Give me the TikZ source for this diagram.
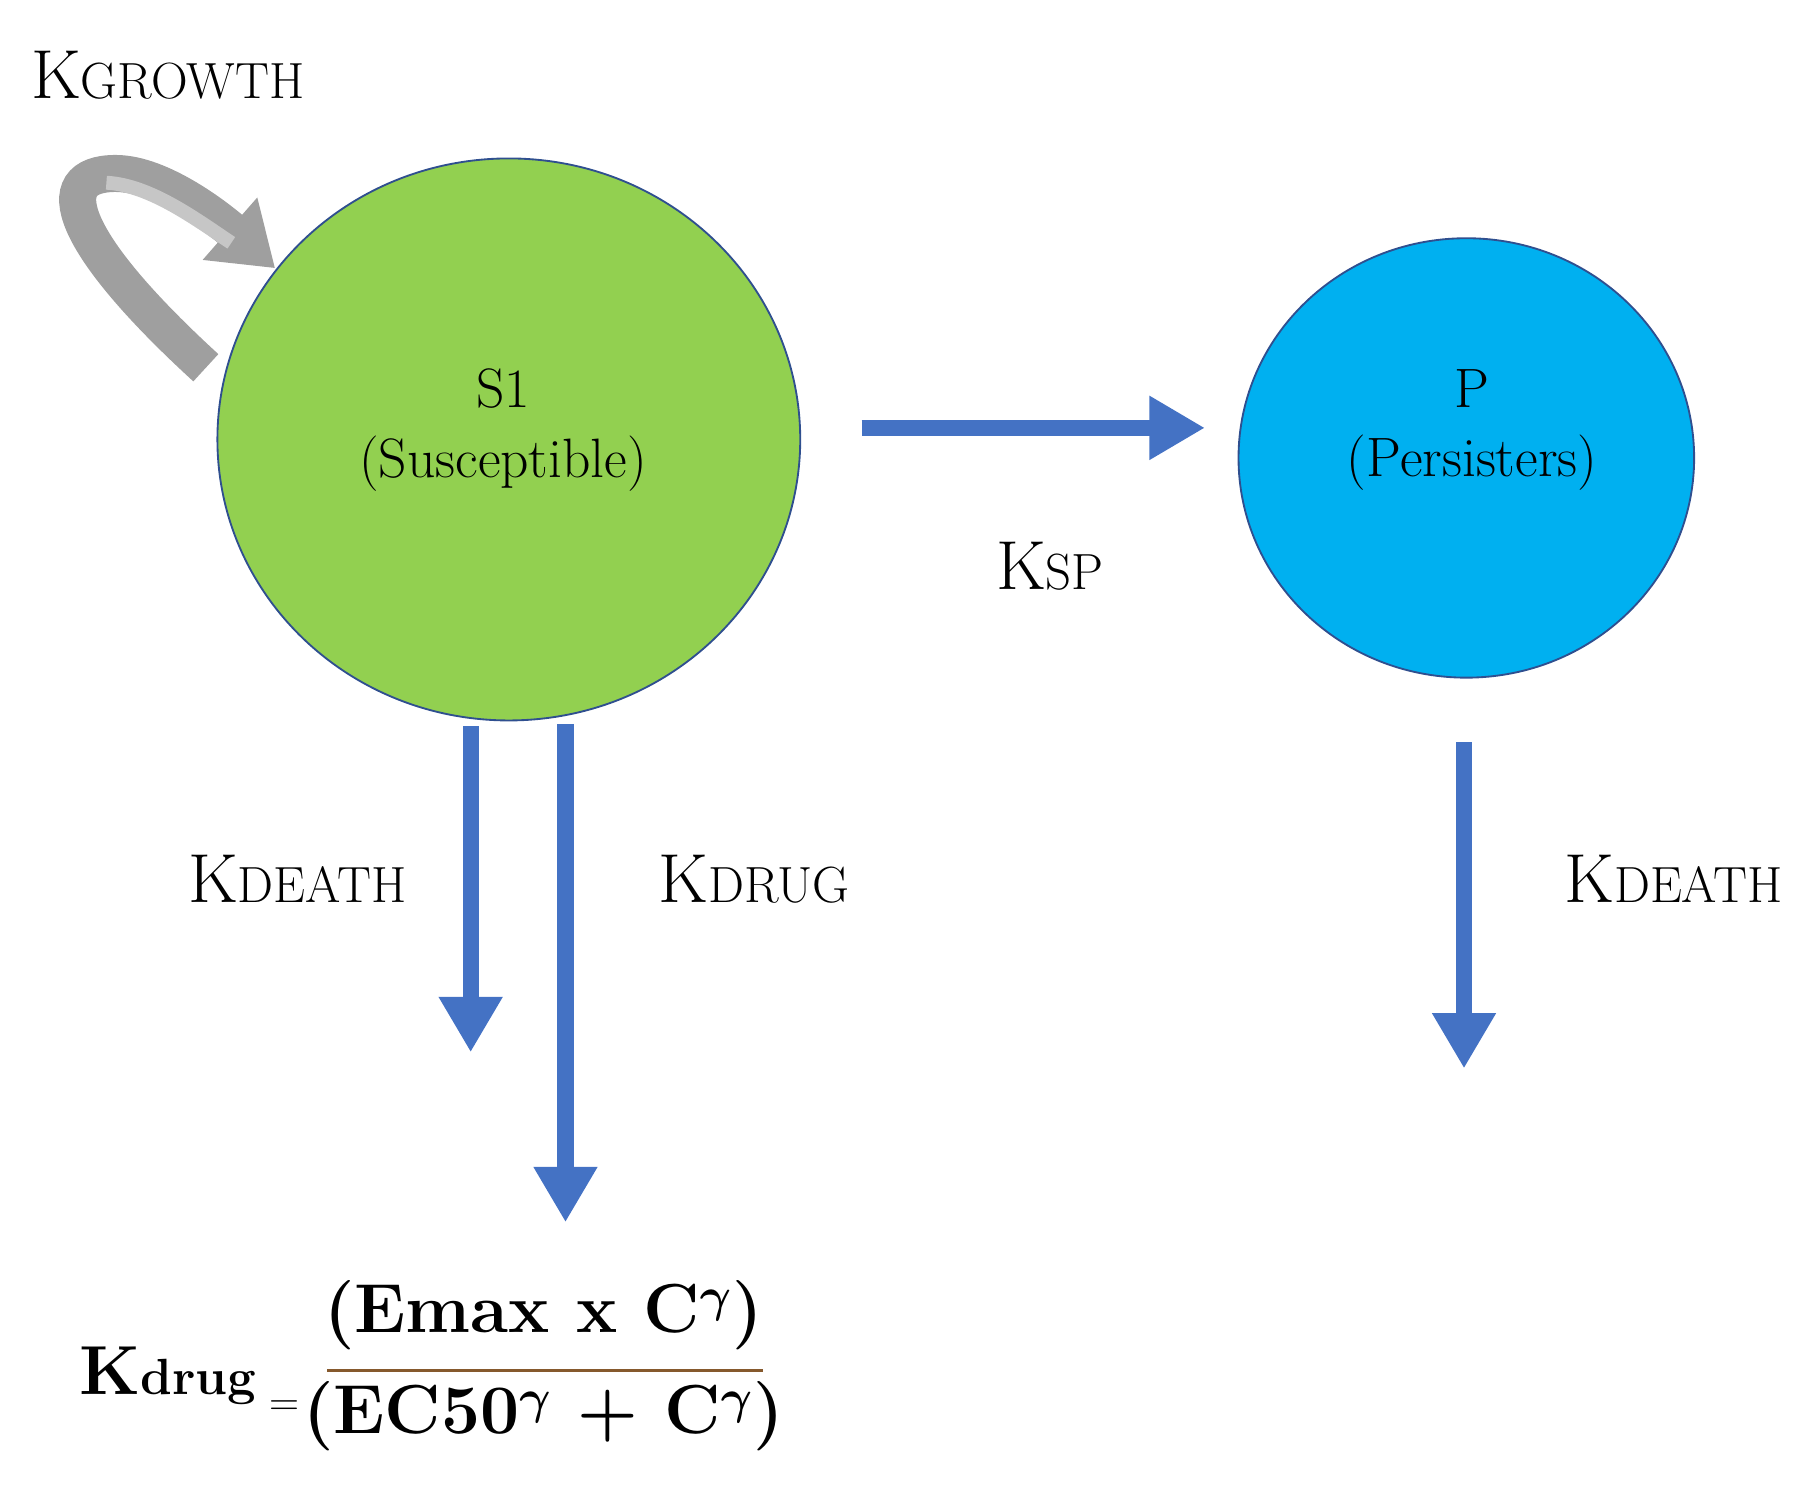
\documentclass[tikz,border=0pt]{standalone}
\usepackage{amsmath}
\usetikzlibrary{arrows.meta}
\begin{document}
\begin{tikzpicture}[x=0.5pt,y=-0.5pt,
  flow/.style={draw=arrowblue,line width=7pt,-{Triangle[width=26pt,length=24pt]}},
  lbl/.style={font=\fontsize{30}{34}\selectfont,inner sep=0pt},
  comp/.style={font=\fontsize{24}{30}\selectfont,align=center}]
\definecolor{arrowblue}{HTML}{4472C4}
\definecolor{sgreen}{HTML}{92D050}
\definecolor{pblue}{HTML}{00B0F0}
\definecolor{edge}{HTML}{2F4F8F}
\useasboundingbox (0,0) rectangle (1560,1290);
\filldraw[fill=sgreen,draw=edge,line width=0.8pt] (440,380) ellipse [x radius=252,y radius=243];
\node[comp] (s1) at (435,372) {S1\\(Susceptible)};
\filldraw[fill=pblue,draw=edge,line width=0.8pt] (1268,396) ellipse [x radius=197,y radius=190];
\node[comp] (p) at (1273,372) {P\\(Persisters)};
% growth arrow
\coordinate (g0) at (178,318);
\coordinate (g1) at (238,232);
\draw[draw=gray!75,line width=16pt,-{Triangle[width=34pt,length=26pt]}]
  (g0) .. controls (60,210) and (40,150) .. (100,150) .. controls (140,150) and (190,190) .. (g1);
\draw[draw=gray!45,line width=6pt] (92,158) .. controls (130,160) and (170,190) .. (200,210);
\node[lbl] (kg) at (145,65) {K\fontsize{22}{26}\selectfont GROWTH};
% transfer
\coordinate (a0) at (745,370); \coordinate (a1) at (1042,370);
\draw[flow] (a0) -- (a1);
\node[lbl] (ksp) at (908,490) {K\fontsize{22}{26}\selectfont SP};
% deaths
\coordinate (d0) at (407,628); \coordinate (d1) at (407,910);
\draw[flow] (d0) -- (d1);
\coordinate (r0) at (489,626); \coordinate (r1) at (489,1057);
\draw[flow] (r0) -- (r1);
\coordinate (q0) at (1266,642); \coordinate (q1) at (1266,924);
\draw[flow] (q0) -- (q1);
\node[lbl] (kd1) at (257,760) {K\fontsize{22}{26}\selectfont DEATH};
\node[lbl] (kdr) at (652,760) {K\fontsize{22}{26}\selectfont DRUG};
\node[lbl] (kd2) at (1447,760) {K\fontsize{22}{26}\selectfont DEATH};
% formula
\node[lbl,font=\fontsize{30}{34}\selectfont\bfseries] (kdrug) at (145,1190) {K\fontsize{22}{26}\selectfont drug};
\node[font=\fontsize{18}{20}\selectfont] (eq) at (246,1218) {=};
\node[lbl,font=\fontsize{30}{34}\selectfont\bfseries] (num) at (470,1137) {(Emax x C$^{\boldsymbol\gamma}$)};
\node[lbl,font=\fontsize{30}{34}\selectfont\bfseries] (den) at (470,1225) {(EC50$^{\boldsymbol\gamma}$ + C$^{\boldsymbol\gamma}$)};
\draw[draw=brown!70!black,line width=1pt] (283,1185) -- (660,1185);
\end{tikzpicture}
\end{document}
